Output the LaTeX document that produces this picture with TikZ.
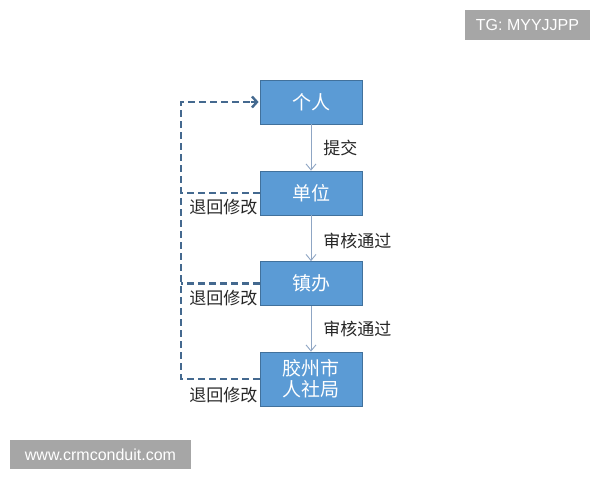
\documentclass[tikz,border=0pt]{standalone}
\usepackage{fontspec}
\setmainfont{Liberation Sans}
\newfontfamily\cjk{Noto Sans CJK SC}
\usetikzlibrary{arrows.meta}
\definecolor{boxblue}{HTML}{5B9BD5}
\definecolor{boxedge}{HTML}{41719C}
\definecolor{flowgray}{HTML}{8FA6C4}
\definecolor{backblue}{HTML}{44698F}
\definecolor{markgray}{HTML}{A6A6A6}
\tikzset{
  stepbox/.style={rectangle, draw=boxedge, line width=0.8pt, fill=boxblue, text=white,
    minimum width=102pt, minimum height=44pt, inner sep=0pt, align=center,
    font=\cjk\fontsize{19}{24}\selectfont},
  flow/.style={draw=flowgray, line width=0.9pt, -{Straight Barb[length=6pt,width=10pt]}},
  back/.style={draw=backblue, line width=2.4pt, dash pattern=on 7pt off 4pt},
  lbl/.style={font=\cjk\fontsize{17}{20}\selectfont, text=black!85, inner sep=0pt},
  tagbox/.style={fill=markgray, text=white, inner sep=0pt, font=\fontsize{16}{18}\selectfont}
}
\begin{document}
\begin{tikzpicture}[x=1pt, y=-1pt]
        \useasboundingbox (0, 0) rectangle (600, 480);

        \node[stepbox] (ren) at (311, 102) {个人};
        \node[stepbox] (danwei) at (311, 193) {单位};
        \node[stepbox] (zhen) at (311, 283.5) {镇办};
        \node[stepbox, minimum height=54pt] (shebao) at (311, 379) {胶州市\\[-3pt]人社局};

        \draw[flow] (ren.south) -- node[lbl, midway, right, xshift=12pt] {提交} (danwei.north);
        \draw[flow] (danwei.south) -- node[lbl, midway, right, xshift=12pt, yshift=-3pt] {审核通过} (zhen.north);
        \draw[flow] (zhen.south) -- node[lbl, midway, right, xshift=12pt] {审核通过} (shebao.north);

        \coordinate (lft) at (181, 0);
        \draw[back] (shebao.west) -- (shebao.west -| lft) |- ([xshift=-8pt]ren.west);
        \draw[draw=backblue, line width=2.4pt, -{Straight Barb[length=5pt,width=11pt]}]
            ([xshift=-9pt]ren.west) -- ([xshift=-1pt]ren.west);
        \draw[back] (danwei.west) -- (danwei.west -| lft);
        \draw[back] (zhen.west) -- (zhen.west -| lft);

        \node[lbl, anchor=east] at ([xshift=-2pt, yshift=-14pt]danwei.west) {退回修改};
        \node[lbl, anchor=east] at ([xshift=-2pt, yshift=-14.5pt]zhen.west) {退回修改};
        \node[lbl, anchor=east] at ([xshift=-2pt, yshift=-16pt]shebao.west) {退回修改};

        \node[tagbox, minimum width=125pt, minimum height=30pt] (tg) at (527.5, 25) {TG: MYYJJPP};
        \node[tagbox, minimum width=181pt, minimum height=29pt] (site) at (100.5, 454.5) {www.crmconduit.com};

    \end{tikzpicture}
\end{document}
